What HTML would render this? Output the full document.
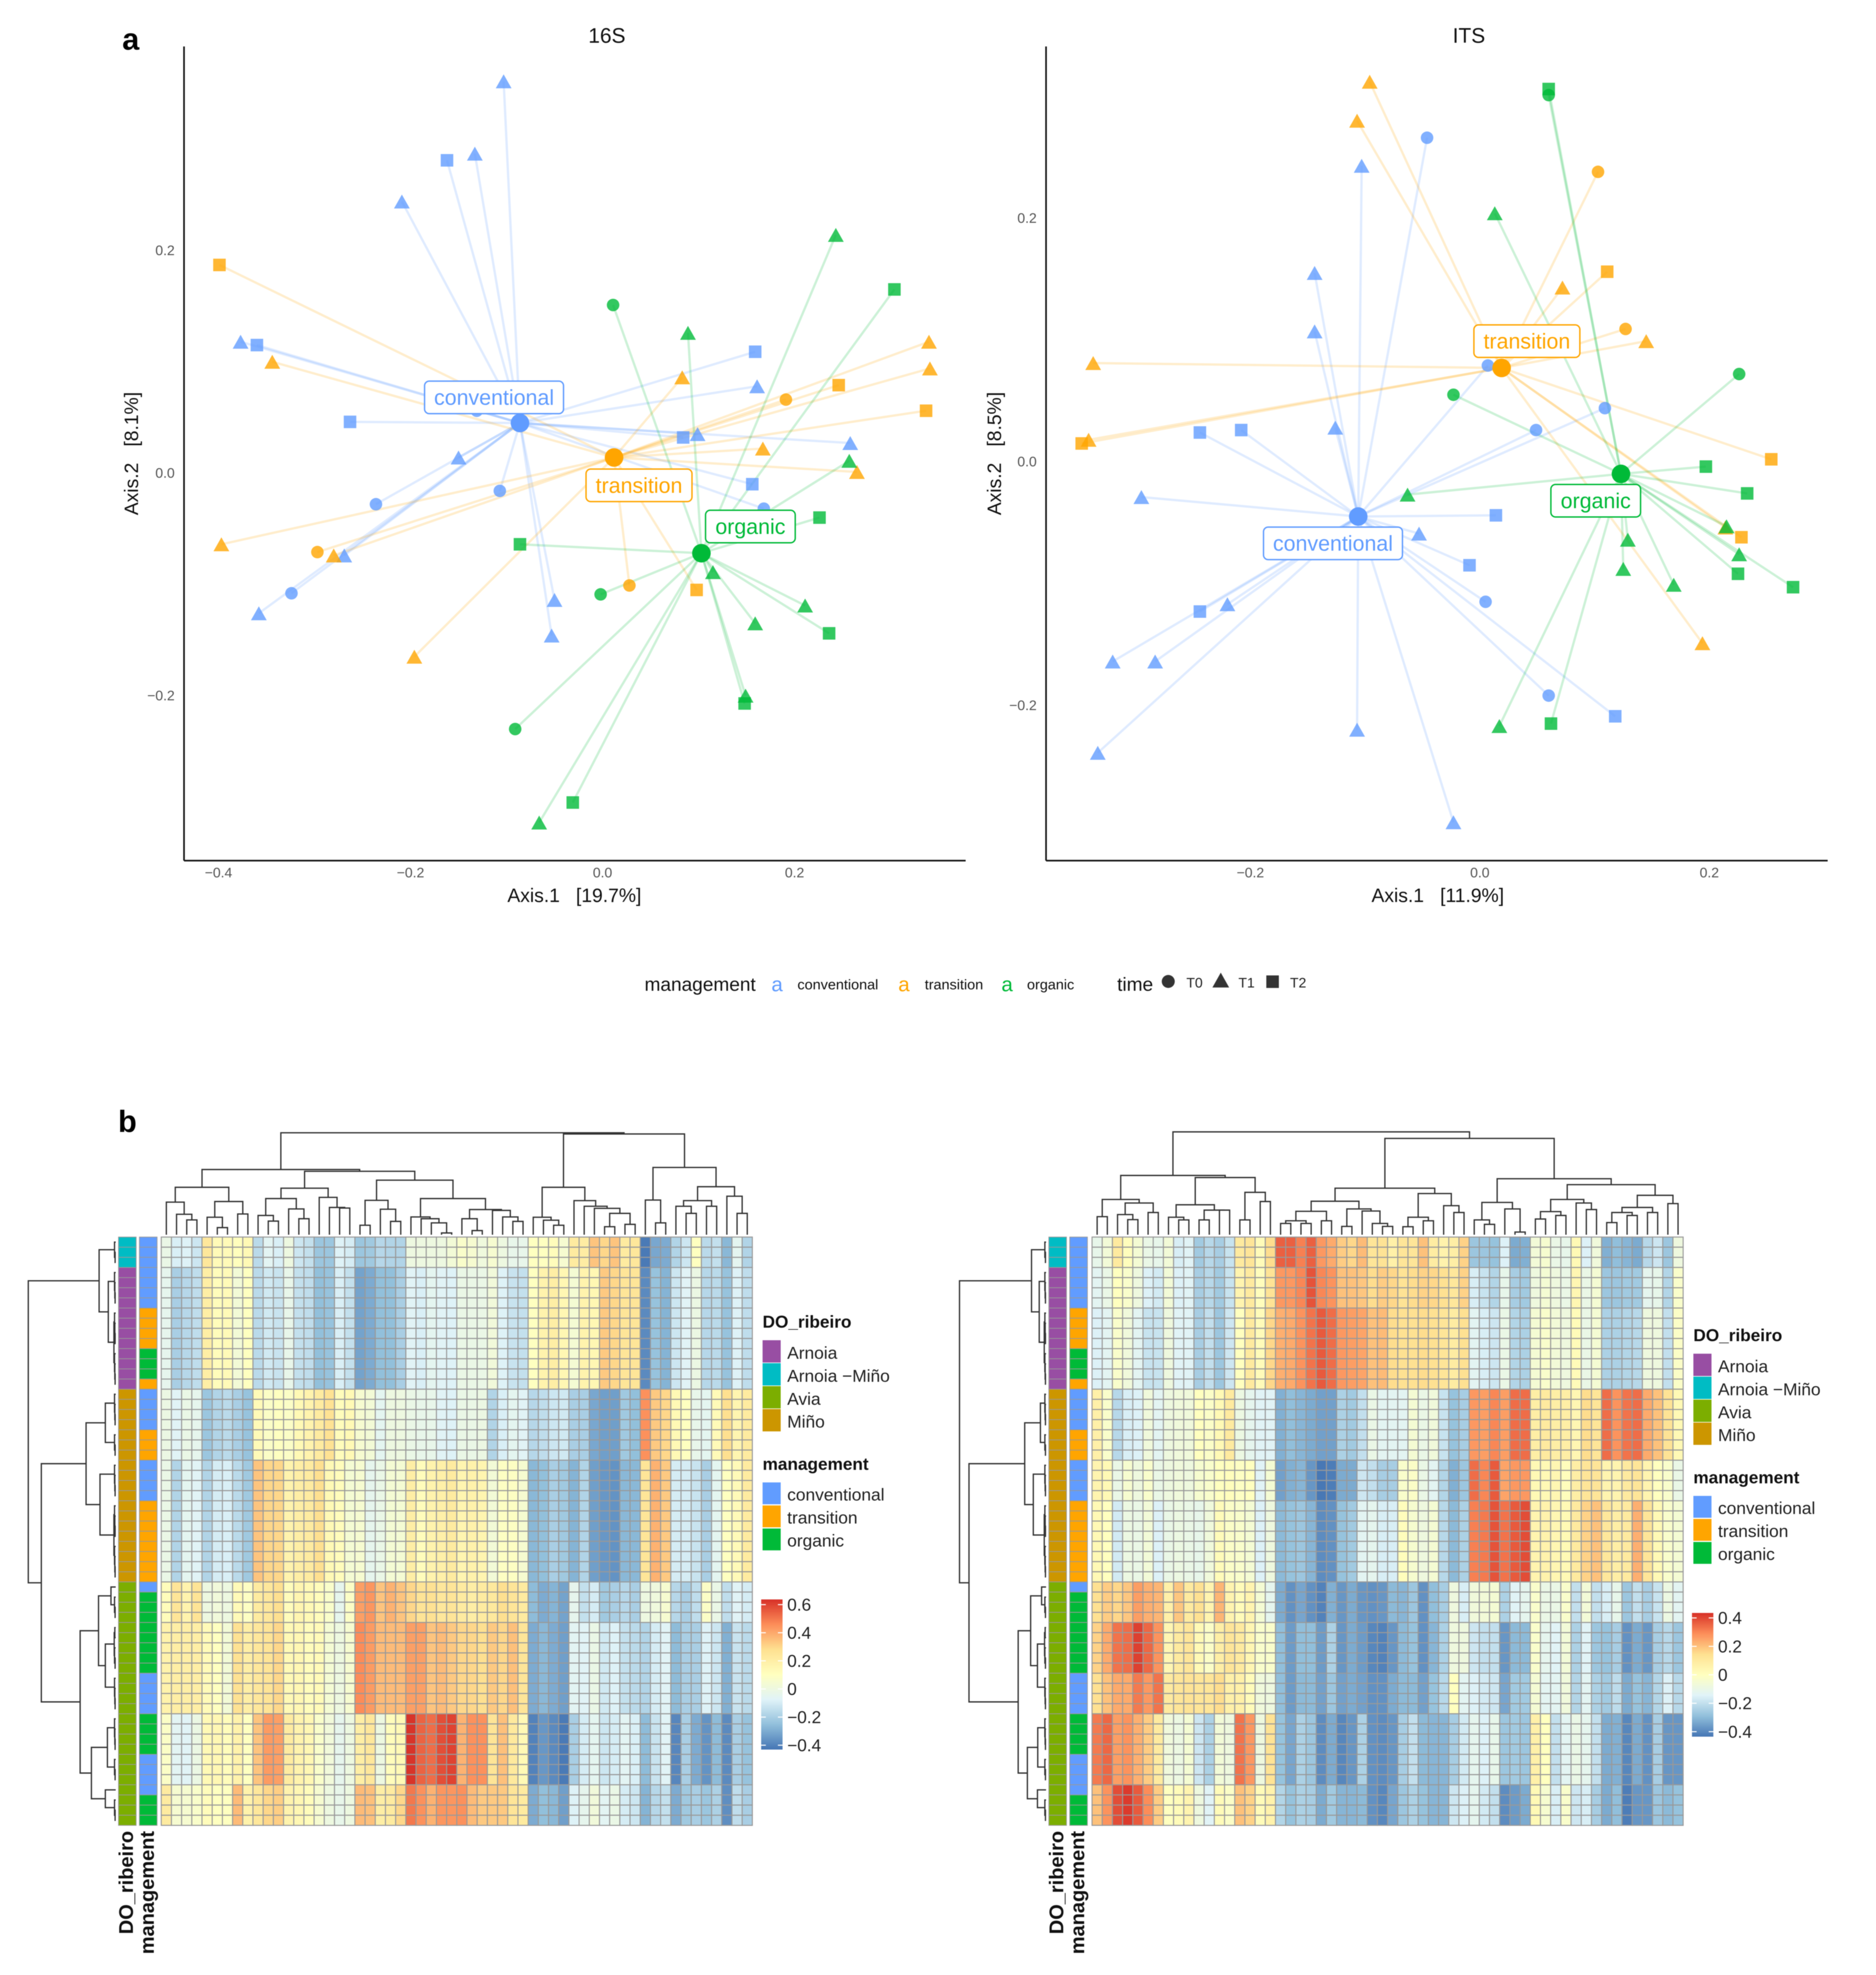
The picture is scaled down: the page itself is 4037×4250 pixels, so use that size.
<!DOCTYPE html>
<html lang="en">
<head>
<meta charset="utf-8">
<title>PCoA ordination and heatmaps for 16S and ITS</title>
<style>
html,body{margin:0;padding:0;background:#fff;}
svg{display:block;font-family:"Liberation Sans",sans-serif;filter:blur(0.9px);}
text{white-space:pre;}
</style>
</head>
<body>
<svg id="fig" xmlns="http://www.w3.org/2000/svg" width="4037" height="4250" viewBox="0 0 4037 4250">
<rect x="0" y="0" width="4037" height="4250" fill="#fff"/>
<text x="263" y="107" font-size="66" font-weight="bold">a</text>
<text x="254" y="2436" font-size="66" font-weight="bold">b</text>
<text x="1306" y="92" font-size="45" text-anchor="middle" fill="#111">16S</text>
<text x="3161" y="92" font-size="45" text-anchor="middle" fill="#111">ITS</text>
<text x="1236" y="1941" font-size="41.5" text-anchor="middle" fill="#111">Axis.1   [19.7%]</text>
<text x="3094" y="1941" font-size="41.5" text-anchor="middle" fill="#111">Axis.1   [11.9%]</text>
<text transform="rotate(-90 297 976)" x="297" y="976" font-size="41.5" text-anchor="middle" fill="#111">Axis.2   [8.1%]</text>
<text transform="rotate(-90 2154 976)" x="2154" y="976" font-size="41.5" text-anchor="middle" fill="#111">Axis.2   [8.5%]</text>

<g>
<text x="1387" y="2132" font-size="41" fill="#111">management</text>
<text x="1660" y="2133" font-size="44" fill="#619cff">a</text>
<text x="1716" y="2129" font-size="31" fill="#111">conventional</text>
<text x="1933" y="2133" font-size="44" fill="#ffa500">a</text>
<text x="1990" y="2129" font-size="31" fill="#111">transition</text>
<text x="2155" y="2133" font-size="44" fill="#00ba38">a</text>
<text x="2210" y="2129" font-size="31" fill="#111">organic</text>
<text x="2404" y="2132" font-size="41" fill="#111">time</text>
<circle cx="2514" cy="2112" r="14" fill="#333"/>
<text x="2553" y="2125" font-size="30" fill="#222">T0</text>
<polygon points="2627,2093 2645,2125 2609,2125" fill="#333"/>
<text x="2665" y="2125" font-size="30" fill="#222">T1</text>
<rect x="2725" y="2099" width="27" height="27" fill="#333"/>
<text x="2776" y="2125" font-size="30" fill="#222">T2</text>
</g>
<defs id="defs"></defs>
</svg>
<script>
// ---------- PCoA data (axis units). Each row: [time, axis1, axis2] ----------
const conventional16S = [
["T1",-0.103,0.352],["T1",-0.133,0.287],["T1",-0.209,0.244],["T1",-0.377,0.118],["T1",-0.150,0.014],["T1",-0.269,-0.074],
["T1",-0.358,-0.126],["T1",-0.050,-0.114],["T1",-0.053,-0.146],["T1",0.099,0.035],["T1",0.161,0.078],["T1",0.258,0.027],
["T2",-0.162,0.281],["T2",-0.360,0.115],["T2",-0.263,0.046],["T2",0.084,0.032],["T2",0.159,0.109],["T2",0.156,-0.010],
["T0",-0.131,0.056],["T0",-0.107,-0.016],["T0",-0.236,-0.028],["T0",-0.324,-0.108],["T0",0.168,-0.032]];
const transition16S = [
["T2",-0.399,0.187],["T2",0.098,-0.105],["T2",0.246,0.079],["T2",0.337,0.056],
["T1",-0.344,0.100],["T1",-0.397,-0.064],["T1",-0.280,-0.074],["T1",-0.196,-0.165],["T1",0.083,0.086],["T1",0.167,0.022],
["T1",0.265,0.001],["T1",0.340,0.118],["T1",0.341,0.094],
["T0",-0.297,-0.071],["T0",0.028,-0.101],["T0",0.191,0.066]];
const organic16S = [
["T0",0.011,0.151],["T0",-0.002,-0.109],["T0",-0.091,-0.230],
["T1",0.243,0.214],["T1",0.089,0.126],["T1",0.257,0.011],["T1",0.115,-0.089],["T1",0.211,-0.119],["T1",0.159,-0.135],
["T1",0.149,-0.200],["T1",-0.066,-0.314],
["T2",0.304,0.165],["T2",0.226,-0.040],["T2",-0.086,-0.064],["T2",0.236,-0.144],["T2",0.148,-0.207],["T2",-0.031,-0.296]];
const centroids16S = [[-0.086,0.045],[0.012,0.014],[0.103,-0.072]];
const labelAnchors16S = [[-0.113,0.068],[0.038,-0.011],[0.154,-0.048]];

const conventionalITS = [
["T0",-0.046,0.266],["T0",0.007,0.079],["T0",0.109,0.044],["T0",0.049,0.026],["T0",0.005,-0.115],["T0",0.060,-0.192],
["T1",-0.103,0.243],["T1",-0.144,0.155],["T1",-0.144,0.107],["T1",-0.126,0.028],["T1",-0.295,-0.029],["T1",-0.053,-0.059],
["T1",-0.220,-0.117],["T1",-0.320,-0.164],["T1",-0.283,-0.164],["T1",-0.333,-0.239],["T1",-0.107,-0.220],["T1",-0.023,-0.296],
["T2",-0.244,0.024],["T2",-0.208,0.026],["T2",0.014,-0.044],["T2",-0.009,-0.085],["T2",-0.244,-0.123],["T2",0.118,-0.209]];
const transitionITS = [
["T1",-0.096,0.312],["T1",-0.107,0.280],["T1",0.072,0.143],["T1",0.145,0.099],["T1",-0.337,0.081],["T1",-0.341,0.018],
["T1",0.214,-0.054],["T1",0.194,-0.149],
["T0",0.103,0.238],["T0",0.127,0.109],
["T2",0.111,0.156],["T2",-0.347,0.015],["T2",0.254,0.002],["T2",0.228,-0.062]];
const organicITS = [
["T0",0.060,0.301],["T0",-0.023,0.055],["T0",0.226,0.072],
["T1",0.013,0.204],["T1",-0.063,-0.027],["T1",0.215,-0.053],["T1",0.129,-0.064],["T1",0.125,-0.088],["T1",0.226,-0.076],
["T1",0.169,-0.101],["T1",0.017,-0.217],
["T2",0.060,0.306],["T2",0.197,-0.004],["T2",0.233,-0.026],["T2",0.225,-0.092],["T2",0.273,-0.103],["T2",0.062,-0.215]];
const centroidsITS = [[-0.106,-0.045],[0.019,0.077],[0.123,-0.010]];
const labelAnchorsITS = [[-0.128,-0.067],[0.041,0.099],[0.101,-0.032]];

const managementNames = ["conventional","transition","organic"];
const xTicks16S = [-0.4,-0.2,0.0,0.2];
const yTicks16S = [0.2,0.0,-0.2];
const xTicksITS = [-0.2,0.0,0.2];
const yTicksITS = [0.2,0.0,-0.2];

// ---------- Heatmap data: rows grouped in blocks, one value per column for each block ----------
const heat16SBlockRows = [3,12,7,12,4,9,7,4];
const heat16SBlockValues = [
[-.02,-.09,-.08,-.12,.24,.13,.13,.11,.14,-.16,-.06,-.09,0,-.12,-.14,-.23,-.23,-.08,-.1,-.23,-.22,-.17,-.18,-.18,0,0,0,0,.03,.07,.05,.01,.05,0,-.03,-.03,.1,.1,.12,.05,.22,.21,.34,.3,.34,.22,.24,-.42,-.31,-.3,-.18,-.12,.1,-.16,-.14,-.27,-.05,-.18],
[-.04,-.2,-.17,-.15,.2,.12,.13,.03,.1,-.16,-.11,-.13,-.03,-.14,-.15,-.25,-.24,-.09,-.14,-.32,-.3,-.25,-.25,-.2,-.07,-.09,-.05,-.07,-.08,-.02,-.02,-.02,.02,-.08,-.13,-.14,.1,.17,.2,.15,.04,.17,.15,.33,.3,.25,.25,-.38,-.24,-.28,-.12,-.07,-.01,-.17,-.16,-.24,-.08,-.15],
[-.01,-.07,-.02,-.04,-.23,-.18,-.16,-.2,-.24,.13,.08,.1,.08,.14,.17,.22,.27,.12,.14,.05,.03,-.05,0,0,-.02,-.03,-.03,-.07,-.08,-.02,-.02,-.01,-.18,-.09,-.05,-.07,-.17,-.15,-.12,-.11,-.2,-.2,-.31,-.33,-.33,-.22,-.25,.45,.33,.3,.14,.1,-.03,-.05,.13,.28,.16,.22],
[-.02,-.18,-.05,-.07,-.18,-.1,-.09,-.16,-.22,.34,.3,.3,.17,.2,.22,.28,.14,.12,.04,.05,-.04,-.02,.04,.04,.2,.12,.17,.19,.22,.16,.18,.16,.03,.09,.09,.05,-.27,-.25,-.2,-.22,-.28,-.18,-.33,-.35,-.36,-.27,-.27,.25,.38,.33,-.1,-.1,-.13,-.2,-.05,.1,.13,.22],
[.12,.25,.17,.26,0,.02,0,.13,.09,.22,.24,.28,.12,.16,.14,.12,.07,-.04,.08,.42,.44,.34,.38,.34,.3,.26,.27,.24,.25,.22,.2,.22,.23,.28,.25,.22,-.26,-.3,-.28,-.32,-.04,-.14,-.1,-.22,-.2,-.17,-.2,0,.01,.05,-.17,-.2,-.15,.08,-.02,-.15,-.07,-.1],
[.18,.2,.2,.2,.13,.1,.03,.27,.2,.24,.26,.3,.14,.15,.12,.13,.04,0,.05,.46,.43,.36,.36,.36,.42,.42,.34,.36,.33,.3,.3,.28,.33,.3,.35,.25,-.3,-.27,-.3,-.33,-.06,-.07,-.02,-.11,-.08,-.14,-.16,-.18,-.1,-.07,-.26,-.2,-.2,-.08,-.12,-.29,-.13,-.16],
[.08,-.06,-.07,-.01,.14,.15,.12,.18,.1,.34,.43,.42,.22,.17,.15,.07,.02,-.04,0,.2,.24,0,.12,.14,.63,.54,.52,.58,.6,.38,.45,.45,.26,.35,.23,.14,-.4,-.35,-.38,-.42,-.2,-.1,-.05,-.12,-.1,-.06,-.09,-.26,-.13,-.07,-.39,-.2,-.3,-.36,-.26,-.38,-.2,-.24],
[.22,.05,.05,.07,.12,.1,.1,.36,.18,.24,.3,.32,.17,.15,.12,.05,0,-.03,0,.36,.35,.2,.22,.3,.5,.45,.38,.44,.44,.45,.36,.33,.33,.33,.25,.22,-.3,-.25,-.27,-.33,-.08,-.04,.02,-.06,-.02,-.1,-.12,-.28,-.17,-.14,-.3,-.22,-.2,-.23,-.19,-.37,-.15,-.2]
];
const heatITSBlockRows = [3,4,8,7,4,8,4,5,4,7,4];
const heatITSBlockValues = [
[-.11,-.06,.1,.01,-.05,-.1,-.11,-.06,-.16,-.14,-.26,-.22,-.25,-.19,.1,.12,.02,.15,.36,.36,.31,.36,.27,.24,.18,.16,.21,.12,.13,.07,.12,.12,.2,.09,.06,.08,.17,-.27,-.27,-.28,-.15,-.33,-.32,-.06,-.04,-.1,-.11,.03,-.15,-.07,-.32,-.29,-.31,-.33,-.22,-.18,-.27,-.08],
[-.13,-.1,0,-.03,-.08,-.15,-.17,-.06,-.15,-.14,-.25,-.22,-.26,-.19,.05,.1,.01,.13,.27,.27,.3,.38,.3,.28,.2,.2,.19,.15,.18,.16,.13,.15,.17,.16,.14,.11,.17,-.16,-.19,-.23,-.11,-.25,-.26,-.08,-.05,-.08,-.1,.04,-.1,-.05,-.27,-.27,-.26,-.26,-.12,-.11,-.23,-.03],
[-.15,-.13,-.03,-.07,-.13,-.19,-.19,-.08,-.14,-.14,-.25,-.2,-.27,-.18,0,.1,.02,.16,.23,.24,.28,.33,.37,.34,.27,.26,.25,.2,.21,.15,.14,.14,.15,.14,.12,.09,.14,-.13,-.16,-.18,-.1,-.23,-.24,-.05,-.03,-.06,-.08,.02,-.1,-.05,-.24,-.24,-.23,-.22,-.08,-.08,-.2,-.02],
[.07,-.03,-.22,-.16,-.15,-.07,-.13,-.08,-.07,-.07,0,-.02,.03,.1,-.09,-.12,-.14,-.14,-.32,-.29,-.31,-.33,-.35,-.35,-.24,-.26,-.2,-.1,-.13,-.13,-.13,-.05,-.1,-.07,-.19,-.28,-.25,.27,.26,.3,.26,.34,.34,.08,.1,.08,.08,.04,.15,.12,.34,.28,.33,.34,.24,.2,.13,.03],
[.05,.03,-.1,-.04,-.08,-.03,-.1,-.08,-.07,-.08,-.04,-.03,0,.01,-.01,0,-.14,-.05,-.35,-.32,-.31,-.37,-.43,-.42,-.33,-.33,-.18,-.2,-.25,-.25,-.03,-.02,-.1,-.13,-.23,-.32,-.27,.34,.3,.37,.25,.27,.27,.03,.03,.04,.01,.08,.12,.12,.05,.05,.1,.12,.05,0,-.03,-.1],
[.03,0,-.17,-.09,-.1,-.06,-.15,-.1,-.09,-.1,-.11,-.07,.02,-.02,-.03,-.05,-.15,-.08,-.3,-.28,-.27,-.31,-.39,-.38,-.28,-.26,-.13,-.12,-.16,-.16,.01,-.04,-.08,-.05,-.22,-.3,-.24,.31,.32,.38,.33,.37,.39,.05,.06,.04,.03,.1,.17,.2,.11,.08,.1,.23,.12,.03,-.03,-.05],
[.14,.18,.16,.19,.26,.23,.22,.07,.19,.1,.14,.05,.22,.05,.02,.05,-.05,-.12,-.33,-.38,-.34,-.38,-.41,-.32,-.37,-.33,-.37,-.38,-.37,-.3,-.31,-.27,-.38,-.29,-.25,-.08,-.16,-.07,-.06,-.05,-.24,-.14,-.12,-.03,-.1,-.1,-.03,-.2,-.06,-.2,-.16,-.11,-.27,-.2,-.25,-.19,-.09,-.13],
[.17,.24,.33,.34,.41,.35,.28,.04,.1,.12,.03,-.02,.08,.12,.1,.04,-.03,-.03,-.29,-.36,-.29,-.29,-.36,-.24,-.37,-.33,-.36,-.4,-.41,-.37,-.3,-.28,-.38,-.31,-.24,-.08,-.08,-.18,-.2,-.2,-.37,-.3,-.3,-.03,-.12,-.14,-.06,-.24,-.14,-.27,-.28,-.25,-.38,-.33,-.37,-.25,-.22,-.27],
[.14,.2,.24,.24,.32,.27,.33,.1,.12,.13,.12,.12,.15,.07,.07,.02,-.07,-.08,-.29,-.36,-.3,-.3,-.35,-.27,-.35,-.33,-.35,-.38,-.38,-.33,-.3,-.3,-.35,-.28,-.22,0,-.13,-.15,-.17,-.18,-.34,-.26,-.26,-.05,-.13,-.13,-.07,-.23,-.13,-.24,-.26,-.21,-.33,-.28,-.31,-.23,-.15,-.22],
[.32,.35,.26,.28,.23,.18,.1,-.07,-.09,-.05,-.18,-.24,-.06,-.08,.33,.27,-.08,.13,-.28,-.34,-.24,-.27,-.39,-.33,-.4,-.37,-.24,-.38,-.39,-.37,-.25,-.2,-.3,-.31,-.31,-.25,-.17,-.12,-.15,-.11,-.27,-.26,-.27,.07,0,-.2,-.13,-.1,-.12,-.2,-.33,-.32,-.4,-.33,-.38,-.25,-.37,-.37],
[.2,.28,.39,.42,.37,.29,.18,0,.02,.05,-.08,-.14,.02,-.02,.2,.17,.02,.06,-.23,-.28,-.24,-.25,-.33,-.26,-.31,-.31,-.3,-.38,-.4,-.34,-.27,-.24,-.28,-.31,-.31,-.18,-.15,-.12,-.17,-.2,-.39,-.36,-.33,.03,-.04,-.16,-.03,-.18,-.16,-.25,-.33,-.29,-.42,-.37,-.37,-.27,-.3,-.28]
];
const colorbarTicks16S = [0.6,0.4,0.2,0,-0.2,-0.4];
const colorbarTicksITS = [0.4,0.2,0,-0.2,-0.4];
const doRibeiroRuns = [["Arnoia -Miño",3],["Arnoia",12],["Miño",19],["Avia",24]];
const managementRuns = [["conventional",7],["transition",4],["organic",3],["transition",1],["conventional",4],["transition",3],["conventional",4],["transition",8],["conventional",1],["organic",8],["conventional",4],["organic",4],["conventional",4],["organic",3]];
const doRibeiroLegend = ["Arnoia","Arnoia −Miño","Avia","Miño"];

// ---------- Dendrograms: [distance, left, right]; a number is a leaf index ----------
const colTree16S = [344,
 [220,
  [160,[110,0,[69,1,[50,2,3]]],[112,[59,4,[24,5,6]],[70,7,8]]],
  [214,
   [157,[122,[65,9,[46,10,11]],[87,12,[54,13,14]]],[126,15,[92,16,[90,17,18]]]],
   [184,
    [116,[32,19,20],[86,21,[45,22,23]]],
    [122,[60,24,[54,25,[40,26,[6,27,28]]]],[85,[54,29,[14,30,31]],[82,32,[60,33,[45,34,35]]]]]]]],
 [340,
  [160,[59,36,[49,37,[32,38,39]]],[115,40,[96,41,[89,42,[72,[27,43,44],[35,45,46]]]]]],
  [227,[117,47,[40,48,49]],[162,[115,[96,50,[72,51,52]],[96,53,54]],[130,55,[72,56,57]]]]]];
const colTreeITS = [347,
 [200,
  [119,[61,0,1],[107,[68,2,[51,3,4]],[75,5,6]]],
  [193,[101,[59,7,[50,8,9]],[83,[50,10,11],[83,12,13]]],[143,[50,14,15],[112,16,17]]]],
 [325,
  [157,
   [113,[79,[47,[38,18,19],[38,20,21]],[47,22,23]],[87,[28,24,25],[80,26,[38,27,[28,28,29]]]]],
   [139,[59,[27,30,31],[47,32,33]],[98,34,[75,35,36]]]],
  [189,
   [109,[50,37,[35,38,39]],[87,40,[9,41,42]]],
   [169,[119,[78,[53,43,44],[65,45,46]],[107,47,[85,48,49]]],[133,[92,[75,[41,50,51],[65,52,53]],[75,54,55]],[105,56,57]]]]]];
const rowClusterA = [4,0,[2,1,2]];
const rowClusterB = [4,3,[3,4,[2,5,6]]];
const rowClusterC = [6,[4,7,[3,8,[2,9,10]]],[4,11,[3,12,[2,13,14]]]];
const rowClusterD = [4,15,[3,16,[2,17,18]]];
const rowClusterE = [4,19,[2,20,21]];
const rowClusterF = [4,22,[3,23,[2,24,25]]];
const rowClusterG = [6,[4,26,[3,27,[2,28,29]]],[4,30,[3,31,[2,32,33]]]];
const rowClusterH = [4,35,[2,36,37]];
const rowClusterI = [5,[3,38,39],[4,40,[2,41,42]]];
const rowClusterJ = [4,43,[3,44,[2,45,46]]];
const rowClusterK = [4,47,[3,48,[2,49,50]]];
const rowClusterL = [4,51,[2,52,53]];
const rowClusterM = [4,55,[2,56,57]];
const rowTree16S = [295,
 [56,rowClusterA,[25,rowClusterB,rowClusterC]],
 [251,
  [100,[35,rowClusterD,rowClusterE],[53,rowClusterF,rowClusterG]],
  [120,
   [58,[16,34,rowClusterH],[35,rowClusterI,rowClusterJ]],
   [82,[28,rowClusterK,rowClusterL],[35,54,rowClusterM]]]]];
const rowTreeITS = [292,
 [49,rowClusterA,[23,rowClusterB,rowClusterC]],
 [260,
  [72,[19,rowClusterD,rowClusterE],[43,rowClusterF,rowClusterG]],
  [94,
   [52,[15,34,rowClusterH],[29,rowClusterI,rowClusterJ]],
   [63,[28,rowClusterK,rowClusterL],[29,54,rowClusterM]]]]];

// ---------- Styling ----------
const svg = document.getElementById('fig');
const defs = document.getElementById('defs');
const NS = 'http://www.w3.org/2000/svg';
const groupColor = {conventional:'#619cff',transition:'#ffa500',organic:'#00ba38'};
const regionColor = {"Arnoia":'#984ea3',"Arnoia -Miño":'#00bcc4',"Avia":'#7cae00',"Miño":'#cc9600'};
const ramp = [[69,117,180],[145,191,219],[224,243,248],[255,255,191],[254,224,144],[252,141,89],[215,48,39]];

function mk(tag, attrs, parent){
  const el = document.createElementNS(NS, tag);
  for(const k in attrs){ el.setAttribute(k, attrs[k]); }
  (parent || svg).appendChild(el);
  return el;
}
function fmt(v, digits){
  const s = Math.abs(v).toFixed(digits);
  return (v < 0 ? '\u2212' : '') + s;
}

// ---------- PCoA panels ----------
function drawMarker(time, px, py, color, parent){
  let el;
  if(time === 'T0'){
    el = mk('circle',{cx:px,cy:py,r:13.5,fill:color,'fill-opacity':0.8},parent);
    
  } else if(time === 'T1'){
    el = mk('polygon',{points:(px)+','+(py-15)+' '+(px+17)+','+(py+15)+' '+(px-17)+','+(py+15),fill:color,'fill-opacity':0.8},parent);
    
  } else {
    el = mk('rect',{x:px-13.5,y:py-13.5,width:27,height:27,fill:color,'fill-opacity':0.8},parent);
    
  }
  
}
function drawPCoA(p){
  const sx = v => p.x0 + p.kx * v;
  const sy = v => p.y0 - p.ky * v;
  const g = mk('g',{});
  
  
  const axisY = mk('line',{x1:p.left,y1:p.top,x2:p.left,y2:p.bottom,stroke:'#111','stroke-width':3.5},g);
  
  
  const axisX = mk('line',{x1:p.left,y1:p.bottom,x2:p.right,y2:p.bottom,stroke:'#111','stroke-width':3.5},g);
  
  
  p.xTicks.forEach(t => {
    const el = mk('text',{x:sx(t),y:p.bottom+36,'font-size':30,'text-anchor':'middle',fill:'#555'},g);
    
    
    el.textContent = fmt(t,1);
  });
  p.yTicks.forEach(t => {
    const el = mk('text',{x:p.left-20,y:sy(t)+10,'font-size':30,'text-anchor':'end',fill:'#555'},g);
    
    
    el.textContent = fmt(t,1);
  });
  managementNames.forEach((name,i) => {
    const c = p.centroids[i];
    p.series[i].forEach(d => {
      const seg = mk('line',{x1:sx(c[0]),y1:sy(c[1]),x2:sx(d[1]),y2:sy(d[2]),stroke:groupColor[name],'stroke-width':5,'stroke-opacity':0.2},g);
      
      
    });
  });
  managementNames.forEach((name,i) => {
    p.series[i].forEach(d => drawMarker(d[0], sx(d[1]), sy(d[2]), groupColor[name], g));
  });
  managementNames.forEach((name,i) => {
    const c = p.centroids[i];
    const dot = mk('circle',{cx:sx(c[0]),cy:sy(c[1]),r:20,fill:groupColor[name]},g);
    
    
  });
  const boxW = {conventional:299,transition:228,organic:193};
  managementNames.forEach((name,i) => {
    const a = p.labels[i];
    const cx = sx(a[0]), cy = sy(a[1]);
    const r = mk('rect',{x:cx-boxW[name]/2,y:cy-35,width:boxW[name],height:70,rx:10,ry:10,fill:'#fff',stroke:groupColor[name],'stroke-width':3},g);
    
    
    const t = mk('text',{x:cx,y:cy+16,'font-size':46,'text-anchor':'middle',fill:groupColor[name]},g);
    
    
    t.textContent = name;
  });
}
drawPCoA({name:'16s',x0:1296.6,kx:2066,y0:1018,ky:2395,left:396,right:2078,top:100,bottom:1852,
  xTicks:xTicks16S,yTicks:yTicks16S,series:[conventional16S,transition16S,organic16S],centroids:centroids16S,labels:labelAnchors16S});
drawPCoA({name:'its',x0:3184.5,kx:2469,y0:993.6,ky:2621,left:2251,right:3933,top:100,bottom:1852,
  xTicks:xTicksITS,yTicks:yTicksITS,series:[conventionalITS,transitionITS,organicITS],centroids:centroidsITS,labels:labelAnchorsITS});

// ---------- Heatmap ----------
function colorAt(v, lo, hi){
  let t = (v - lo) / (hi - lo) * (ramp.length - 1);
  t = Math.max(0, Math.min(ramp.length - 1, t));
  const i = Math.min(ramp.length - 2, Math.floor(t));
  const f = t - i;
  const c = ramp[i].map((a,k) => Math.round(a + (ramp[i+1][k] - a) * f));
  return 'rgb(' + c.join(',') + ')';
}
function drawColTree(node, leafPos, base, k, g){
  if(typeof node === 'number'){ return {p:leafPos(node), y:base}; }
  const a = drawColTree(node[1], leafPos, base, k, g);
  const b = drawColTree(node[2], leafPos, base, k, g);
  const y = base - node[0] * k;
  const path = mk('path',{d:'M'+a.p+' '+a.y+'V'+y+'H'+b.p+'V'+b.y,fill:'none',stroke:'#333','stroke-width':2.8},g);
  
  
  return {p:(a.p + b.p) / 2, y:y};
}
function drawRowTree(node, leafPos, base, k, g){
  if(typeof node === 'number'){ return {p:leafPos(node), x:base}; }
  const a = drawRowTree(node[1], leafPos, base, k, g);
  const b = drawRowTree(node[2], leafPos, base, k, g);
  const x = base - node[0] * k;
  const path = mk('path',{d:'M'+a.x+' '+a.p+'H'+x+'V'+b.p+'H'+b.x,fill:'none',stroke:'#333','stroke-width':2.8},g);
  
  
  return {p:(a.p + b.p) / 2, x:x};
}
function drawAnnotation(runs, colorMap, x, w, top, rowH, nameStr, g){
  let r = 0;
  runs.forEach(run => {
    for(let i = 0; i < run[1]; i++){
      const c = mk('rect',{x:x,y:top + r * rowH,width:w,height:rowH,fill:colorMap[run[0]],stroke:'#999','stroke-width':1.6},g);
      
      
      r++;
    }
  });
}
function drawHeatmap(h){
  const g = mk('g',{});
  
  
  const nCols = h.values[0].length;
  const nRows = h.blockRows.reduce((a,b) => a + b, 0);
  const colW = (h.right - h.left) / nCols;
  const rowH = (h.bottom - h.top) / nRows;
  let r = 0;
  h.blockRows.forEach((count, bi) => {
    for(let i = 0; i < count; i++){
      h.values[bi].forEach((v, c) => {
        const cell = mk('rect',{x:h.left + c * colW,y:h.top + r * rowH,width:colW,height:rowH,fill:colorAt(v,h.lo,h.hi),stroke:'#999','stroke-width':2.2},g);
        
        
      });
      r++;
    }
  });
  drawAnnotation(doRibeiroRuns, regionColor, h.annX1, 38, h.top, rowH, 'do-ribeiro-annotation-cell', g);
  drawAnnotation(managementRuns, groupColor, h.annX2, 38, h.top, rowH, 'management-annotation-cell', g);
  drawColTree(h.colTree, i => h.left + (i + 0.5) * colW, h.top - 5, 1 / 1.568, g);
  drawRowTree(h.rowTree, i => h.top + (i + 0.5) * rowH, h.annX1 - 6, 1 / 1.568, g);

  const t1 = mk('text',{x:h.annX1 + 31,y:3940,'font-size':43,'font-weight':'bold','text-anchor':'end',transform:'rotate(-90 '+(h.annX1+31)+' 3940)',fill:'#111'},g);
  
  
  t1.textContent = 'DO_ribeiro';
  const t2 = mk('text',{x:h.annX2 + 31,y:3940,'font-size':43,'font-weight':'bold','text-anchor':'end',transform:'rotate(-90 '+(h.annX2+31)+' 3940)',fill:'#111'},g);
  
  
  t2.textContent = 'management';

  // category legends
  const lx = h.legendX, dy = h.legendDy;
  const title1 = mk('text',{x:lx,y:2857 + dy,'font-size':37,'font-weight':'bold',fill:'#111'},g);
  
  
  title1.textContent = 'DO_ribeiro';
  doRibeiroLegend.forEach((name,i) => {
    const key = name.replace('\u2212','-');
    const k = mk('rect',{x:lx,y:2884 + dy + i * 49.4,width:39,height:48,fill:regionColor[key]},g);
    
    
    const l = mk('text',{x:lx + 53,y:2924 + dy + i * 49.4,'font-size':37.3,fill:'#222'},g);
    
    
    l.textContent = name;
  });
  const title2 = mk('text',{x:lx,y:3163 + dy,'font-size':37,'font-weight':'bold',fill:'#111'},g);
  
  
  title2.textContent = 'management';
  managementNames.forEach((name,i) => {
    const k = mk('rect',{x:lx,y:3190 + dy + i * 49.6,width:39,height:47,fill:groupColor[name]},g);
    
    
    const l = mk('text',{x:lx + 53,y:3229 + dy + i * 49.6,'font-size':37.3,fill:'#222'},g);
    
    
    l.textContent = name;
  });

  // colour bar
  const grad = mk('linearGradient',{id:'grad-' + h.name,x1:0,y1:1,x2:0,y2:0},defs);
  ramp.forEach((c,i) => {
    mk('stop',{offset:(i / (ramp.length - 1)),'stop-color':'rgb(' + c.join(',') + ')'},grad);
  });
  const barY = v => h.barY0 - h.barK * v;
  const bar = mk('rect',{x:h.barX,y:barY(h.hi),width:46,height:barY(h.lo) - barY(h.hi),fill:'url(#grad-' + h.name + ')'},g);
  
  
  h.barTicks.forEach(t => {
    const m1 = mk('line',{x1:h.barX,x2:h.barX + 10,y1:barY(t),y2:barY(t),stroke:'#fff','stroke-width':2.2},g);
    
    
    const m2 = mk('line',{x1:h.barX + 36,x2:h.barX + 46,y1:barY(t),y2:barY(t),stroke:'#fff','stroke-width':2.2},g);
    
    
    const lab = mk('text',{x:h.barX + 56,y:barY(t) + 13,'font-size':37,fill:'#222'},g);
    
    
    lab.textContent = t === 0 ? '0' : fmt(t,1);
  });
}
drawHeatmap({name:'16s',left:347,right:1619,top:2662,bottom:3928,lo:-0.431,hi:0.637,
  blockRows:heat16SBlockRows,values:heat16SBlockValues,colTree:colTree16S,rowTree:rowTree16S,
  annX1:255,annX2:300,legendX:1641,legendDy:0,barX:1638,barY0:3634.5,barK:302.5,barTicks:colorbarTicks16S});
drawHeatmap({name:'its',left:2350,right:3622,top:2662,bottom:3928,lo:-0.435,hi:0.435,
  blockRows:heatITSBlockRows,values:heatITSBlockValues,colTree:colTreeITS,rowTree:rowTreeITS,
  annX1:2257,annX2:2302,legendX:3644,legendDy:29,barX:3641,barY0:3604,barK:306,barTicks:colorbarTicksITS});
</script>
</body>
</html>
